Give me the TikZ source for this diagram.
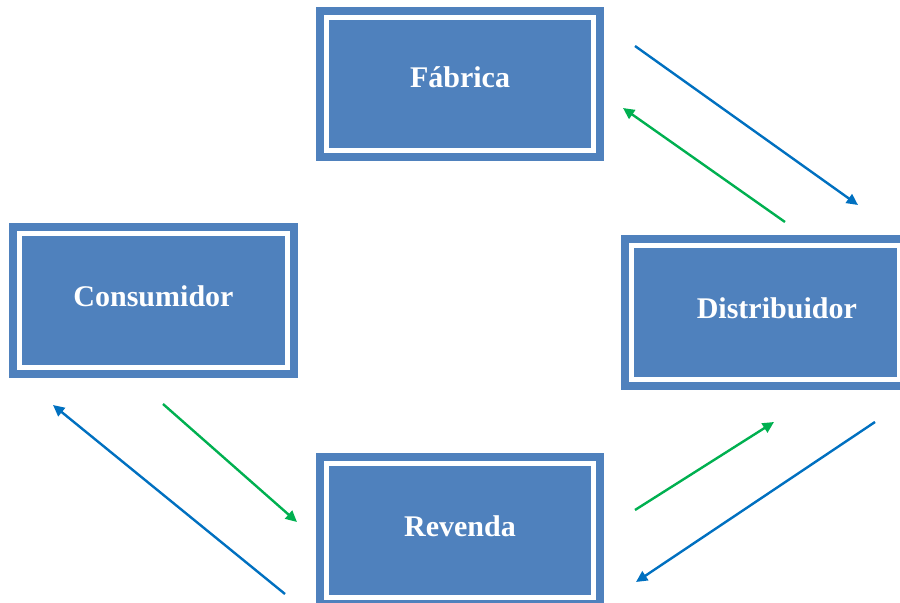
\documentclass[tikz,border=0pt]{standalone}
\usepackage{fontspec}
\setmainfont{Liberation Serif}
\usetikzlibrary{arrows.meta}
\definecolor{caixaazul}{HTML}{4F81BD}
\definecolor{setaazul}{HTML}{0070C0}
\definecolor{setaverde}{HTML}{00B050}

\begin{document}
\begin{tikzpicture}[x=0.75pt, y=-0.75pt,
  caixa/.style={draw=caixaazul, fill=caixaazul, line width=6pt, double=white, double distance=3.75pt,
    minimum width=200.5pt, minimum height=100pt, text depth=6pt, text=white,
    font=\fontsize{22.5pt}{27pt}\selectfont\bfseries},
  fluxo/.style={-{Triangle[length=8.5pt, width=8pt]}, line width=1.8pt}]
\useasboundingbox (0,0) rectangle (900,603);
\clip (0,0) rectangle (900,603);

\node[caixa, text depth=10pt] (fabrica) at (460,84) {Fábrica};
\node[caixa] (consumidor) at (153.5,300.5) {Consumidor};
\node[caixa] (distribuidor) at (765.5,312.5) {\hspace*{17pt}Distribuidor};
\node[caixa] (revenda) at (460,530.5) {Revenda};

% extremos das setas
\coordinate (fd1) at (635,46);
\coordinate (fd2) at (858,205);
\coordinate (df1) at (785,222);
\coordinate (df2) at (623,108);
\coordinate (rd1) at (635,510);
\coordinate (rd2) at (774,422);
\coordinate (dr1) at (875,422);
\coordinate (dr2) at (636,582);
\coordinate (cr1) at (163,404);
\coordinate (cr2) at (297,522);
\coordinate (rc1) at (285,594);
\coordinate (rc2) at (53,405);

\draw[fluxo, setaazul] (fd1) -- (fd2);
\draw[fluxo, setaverde] (df1) -- (df2);
\draw[fluxo, setaverde] (rd1) -- (rd2);
\draw[fluxo, setaazul] (dr1) -- (dr2);
\draw[fluxo, setaverde] (cr1) -- (cr2);
\draw[fluxo, setaazul] (rc1) -- (rc2);

\end{tikzpicture}
\end{document}
